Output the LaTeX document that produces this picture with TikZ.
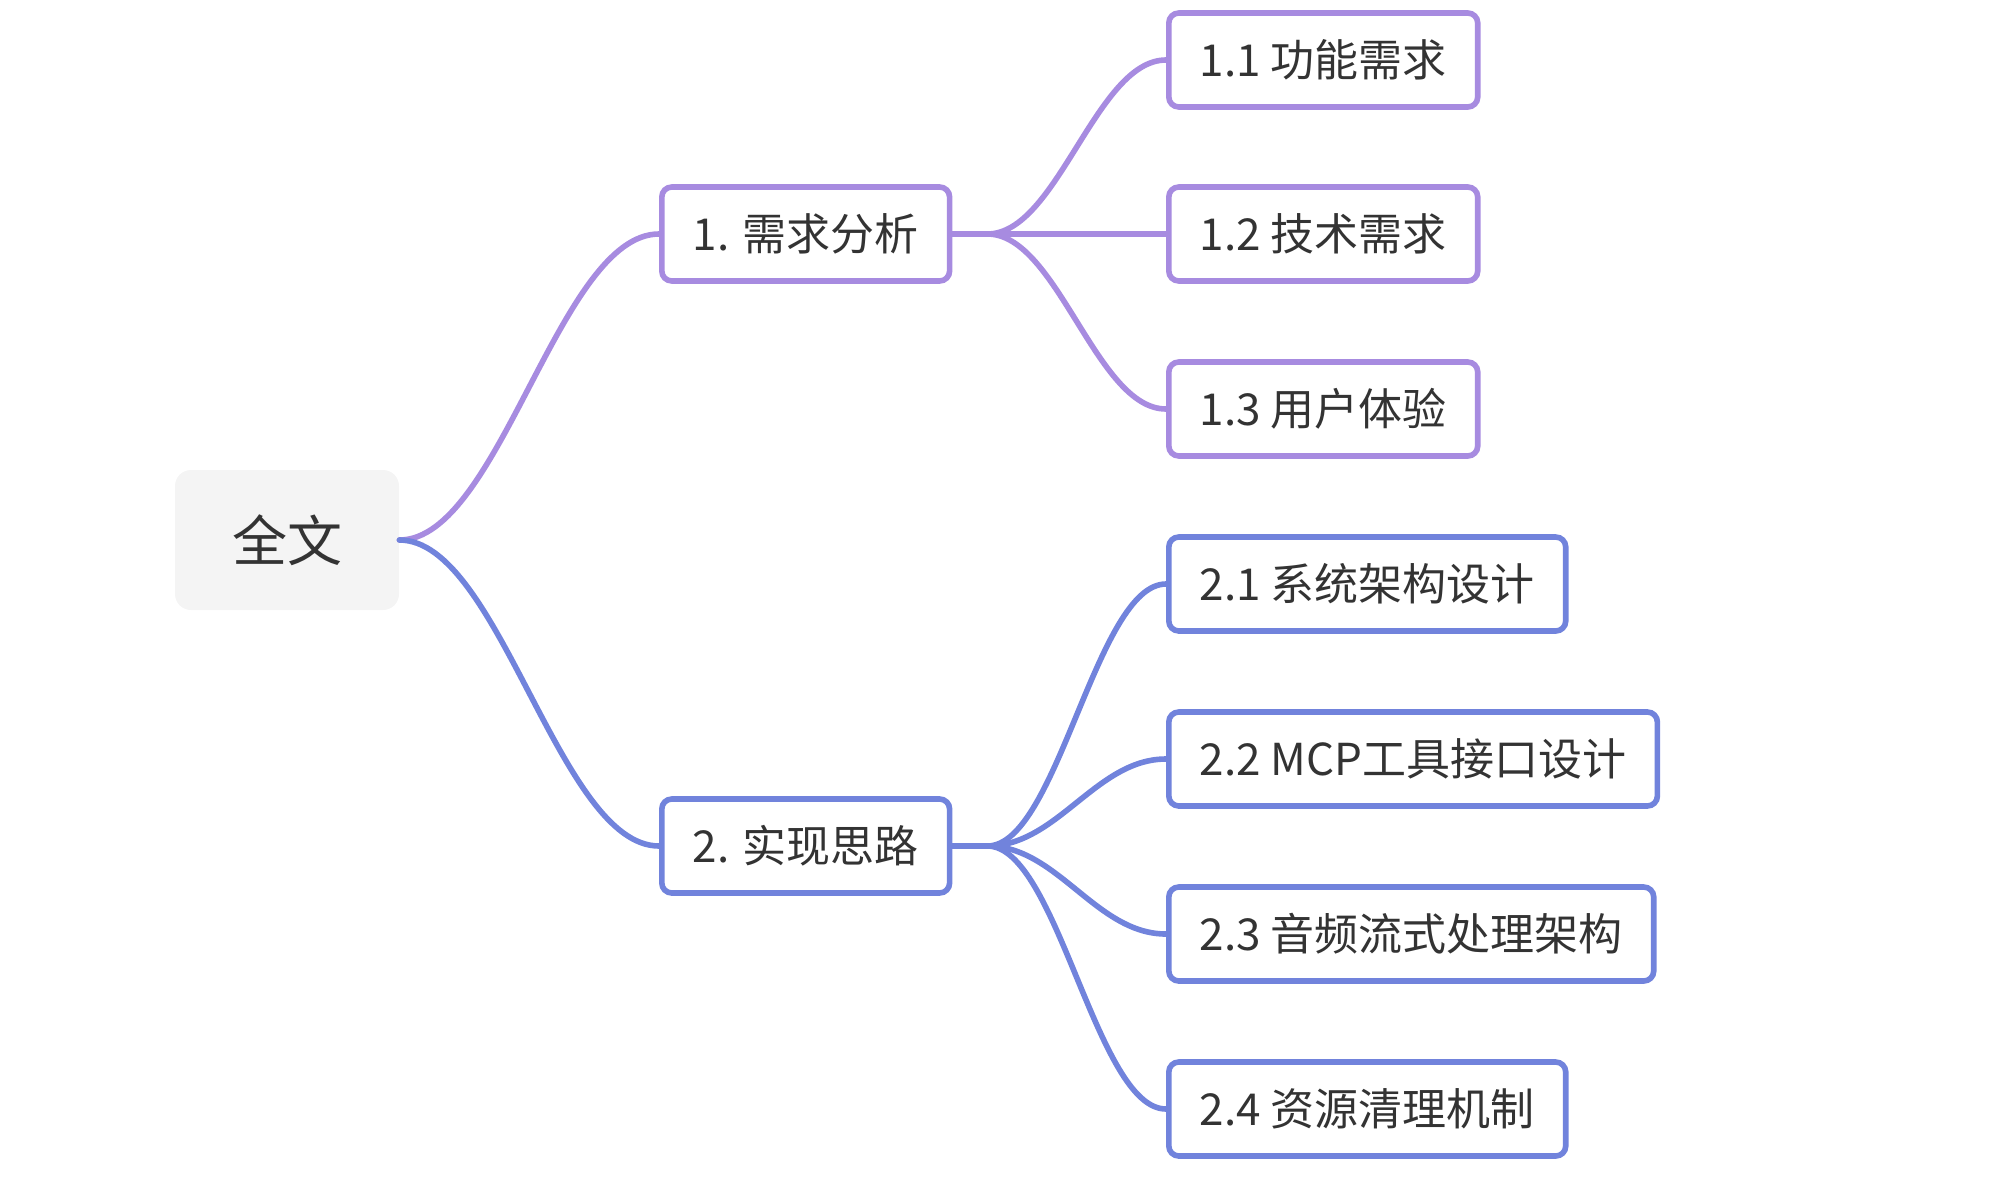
\documentclass[tikz,border=0pt]{standalone}
\usepackage{fontspec}
\usepackage{tikz}
\usepackage{xcolor}
\usetikzlibrary{calc,positioning}
\newfontfamily\cjk{Noto Sans CJK SC}
\definecolor{mapviolet}{RGB}{167,139,224}
\definecolor{mapblue}{RGB}{113,131,220}
\definecolor{maptext}{RGB}{51,51,51}
\definecolor{maproot}{RGB}{244,244,244}

\begin{document}
\begin{tikzpicture}[x=.5pt,y=-.5pt,font=\cjk\fontsize{22pt}{26pt}\selectfont,text=maptext,
  topic/.style={draw,line width=2.8pt,rounded corners=5pt,fill=white,minimum height=47pt,inner xsep=15.5pt,anchor=west},
  branch/.style={line width=2.8pt,line cap=round}]
\useasboundingbox (0,0) rectangle (1990,1178);
\node[fill=maproot,rounded corners=8pt,minimum width=112pt,minimum height=70pt,font=\cjk\fontsize{27.5pt}{32pt}\selectfont] (root) at (287,540) {全文};
\node[topic,draw=mapviolet] (req) at (659,234) {1. 需求分析};
\node[topic,draw=mapblue] (impl) at (659,846) {2. 实现思路};
\node[topic,draw=mapviolet] (req1) at (1166,60) {1.1 功能需求};
\node[topic,draw=mapviolet] (req2) at (1166,234) {1.2 技术需求};
\node[topic,draw=mapviolet] (req3) at (1166,409) {1.3 用户体验};
\node[topic,draw=mapblue] (impl1) at (1166,584) {2.1 系统架构设计};
\node[topic,draw=mapblue] (impl2) at (1166,759) {2.2 MCP工具接口设计};
\node[topic,draw=mapblue] (impl3) at (1166,934) {2.3 音频流式处理架构};
\node[topic,draw=mapblue] (impl4) at (1166,1109) {2.4 资源清理机制};
\draw[branch,mapviolet] (root.east) .. controls +(100,0) and +(-100,0) .. (req.west);
\draw[branch,mapblue] (root.east) .. controls +(100,0) and +(-100,0) .. (impl.west);
\draw[branch,mapviolet] (req.east) -- ++(35,0) coordinate (reqfork);
\draw[branch,mapviolet] (reqfork) .. controls +(70,0) and +(-70,0) .. (req1.west);
\draw[branch,mapviolet] (reqfork) -- (req2.west);
\draw[branch,mapviolet] (reqfork) .. controls +(70,0) and +(-70,0) .. (req3.west);
\draw[branch,mapblue] (impl.east) -- ++(35,0) coordinate (implfork);
\draw[branch,mapblue] (implfork) .. controls +(70,0) and +(-70,0) .. (impl1.west);
\draw[branch,mapblue] (implfork) .. controls +(70,0) and +(-70,0) .. (impl2.west);
\draw[branch,mapblue] (implfork) .. controls +(70,0) and +(-70,0) .. (impl3.west);
\draw[branch,mapblue] (implfork) .. controls +(70,0) and +(-70,0) .. (impl4.west);
\end{tikzpicture}
\end{document}
